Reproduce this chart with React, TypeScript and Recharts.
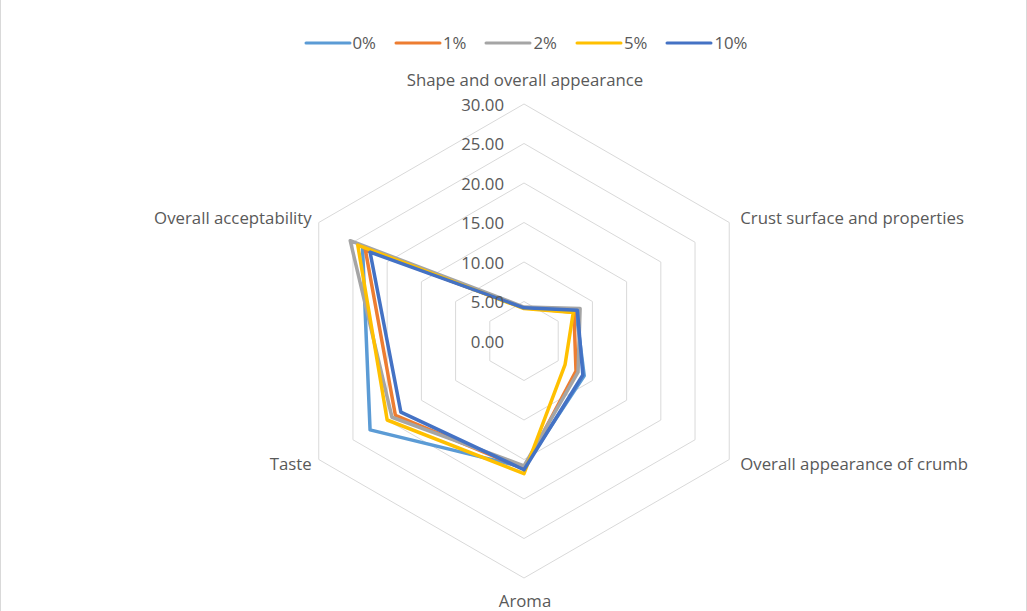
import {
  RadarChart,
  Radar,
  PolarGrid,
  PolarAngleAxis,
  PolarRadiusAxis,
  Legend,
} from 'recharts'

const attributes = [
  'Shape and overall appearance',
  'Crust surface and properties',
  'Overall appearance of crumb',
  'Aroma',
  'Taste',
  'Overall acceptability',
]

const levels = ['0%', '1%', '2%', '5%', '10%']

const values0 = [4.2, 7.6, 8.8, 16.0, 22.5, 23.6]
const values1 = [4.2, 7.3, 7.6, 16.2, 18.8, 23.2]
const values2 = [4.3, 8.2, 7.9, 15.8, 19.3, 25.4]
const values5 = [4.1, 7.2, 6.0, 16.8, 20.0, 24.3]
const values10 = [4.2, 7.8, 8.6, 16.3, 18.0, 22.5]

const radiusTicks = [0, 5, 10, 15, 20, 25, 30]

const colors = ['#5B9BD5', '#ED7D31', '#A5A5A5', '#FFC000', '#4472C4']

const seriesValues = [values0, values1, values2, values5, values10]

const data = attributes.map((name, i) => {
  const row: Record<string, string | number> = { name }
  levels.forEach((lvl, j) => {
    row[lvl] = seriesValues[j][i]
  })
  return row
})

const CX = 524
const CY = 341
const R = 237
const FONT = '"Open Sans", "Noto Sans", sans-serif'
const TEXT = '#595959'
const FS = 16.8

const AngleTick = (props) => {
  const { payload } = props
  const angle = (payload.coordinate * Math.PI) / 180
  const px = CX + R * Math.cos(angle)
  const py = CY - R * Math.sin(angle)
  let x = px
  let y = py
  let anchor = 'middle'
  if (Math.abs(payload.coordinate - 90) < 1) {
    y = py - 25
  } else if (Math.abs(payload.coordinate + 90) < 1 || Math.abs(payload.coordinate - 270) < 1) {
    y = py + 22
  } else {
    y = Math.sin(angle) > 0 ? py - 5 : py + 4
    if (Math.cos(angle) > 0) {
      x = px + 10
      anchor = 'start'
    } else {
      x = px - 8
      anchor = 'end'
    }
  }
  return (
    <text
      x={x}
      y={y}
      textAnchor={anchor}
      dominantBaseline="central"
      fill={TEXT}
      fontSize={FS}
      fontFamily={FONT}
    >
      {payload.value}
    </text>
  )
}

const RadiusTick = (props) => {
  const { x, y, payload } = props
  return (
    <text
      x={x - 20}
      y={y}
      textAnchor="end"
      dominantBaseline="central"
      fill={TEXT}
      fontSize={FS}
      fontFamily={FONT}
    >
      {Number(payload.value).toFixed(2)}
    </text>
  )
}

const LegendContent = () => (
  <div
    style={{
      display: 'flex',
      justifyContent: 'center',
      paddingLeft: 24,
      fontFamily: FONT,
      fontSize: FS,
      color: TEXT,
    }}
  >
    {levels.map((lvl, i) => (
      <div key={lvl} style={{ display: 'flex', alignItems: 'center', marginRight: i === levels.length - 1 ? 0 : 18 }}>
        <svg width={48} height={10}>
          <line x1={2} y1={5} x2={46} y2={5} stroke={colors[i]} strokeWidth={3} strokeLinecap="round" />
        </svg>
        <span style={{ marginLeft: 1, minWidth: 22 }}>{lvl}</span>
      </div>
    ))}
  </div>
)

export default function App() {
  return (
    <div
      style={{
        position: 'absolute',
        left: 0,
        top: 0,
        width: 1027,
        height: 611,
        background: '#fff',
        boxSizing: 'border-box',
        borderLeft: '1px solid #D9D9D9',
        borderRight: '1px solid #D9D9D9',
      }}
    >
      <RadarChart
        width={1025}
        height={611}
        data={data}
        cx={CX - 1}
        cy={CY}
        outerRadius={R}
        startAngle={90}
        endAngle={-270}
      >
        <PolarGrid gridType="polygon" radialLines={false} stroke="#D9D9D9" strokeWidth={1} />
        <PolarAngleAxis dataKey="name" tick={AngleTick} tickLine={false} axisLine={false} />
        <PolarRadiusAxis
          angle={90}
          domain={[0, 30]}
          ticks={radiusTicks}
          tick={RadiusTick}
          axisLine={false}
          tickLine={false}
        />
        {levels.map((lvl, i) => (
          <Radar
            key={lvl}
            name={lvl}
            dataKey={lvl}
            stroke={colors[i]}
            strokeWidth={3.5}
            fill="none"
            fillOpacity={0}
            strokeLinejoin="round"
            isAnimationActive={false}
          />
        ))}
        <Legend
          content={LegendContent}
          wrapperStyle={{ position: 'absolute', top: 31, left: 0, width: 1025 }}
        />
      </RadarChart>
    </div>
  )
}
